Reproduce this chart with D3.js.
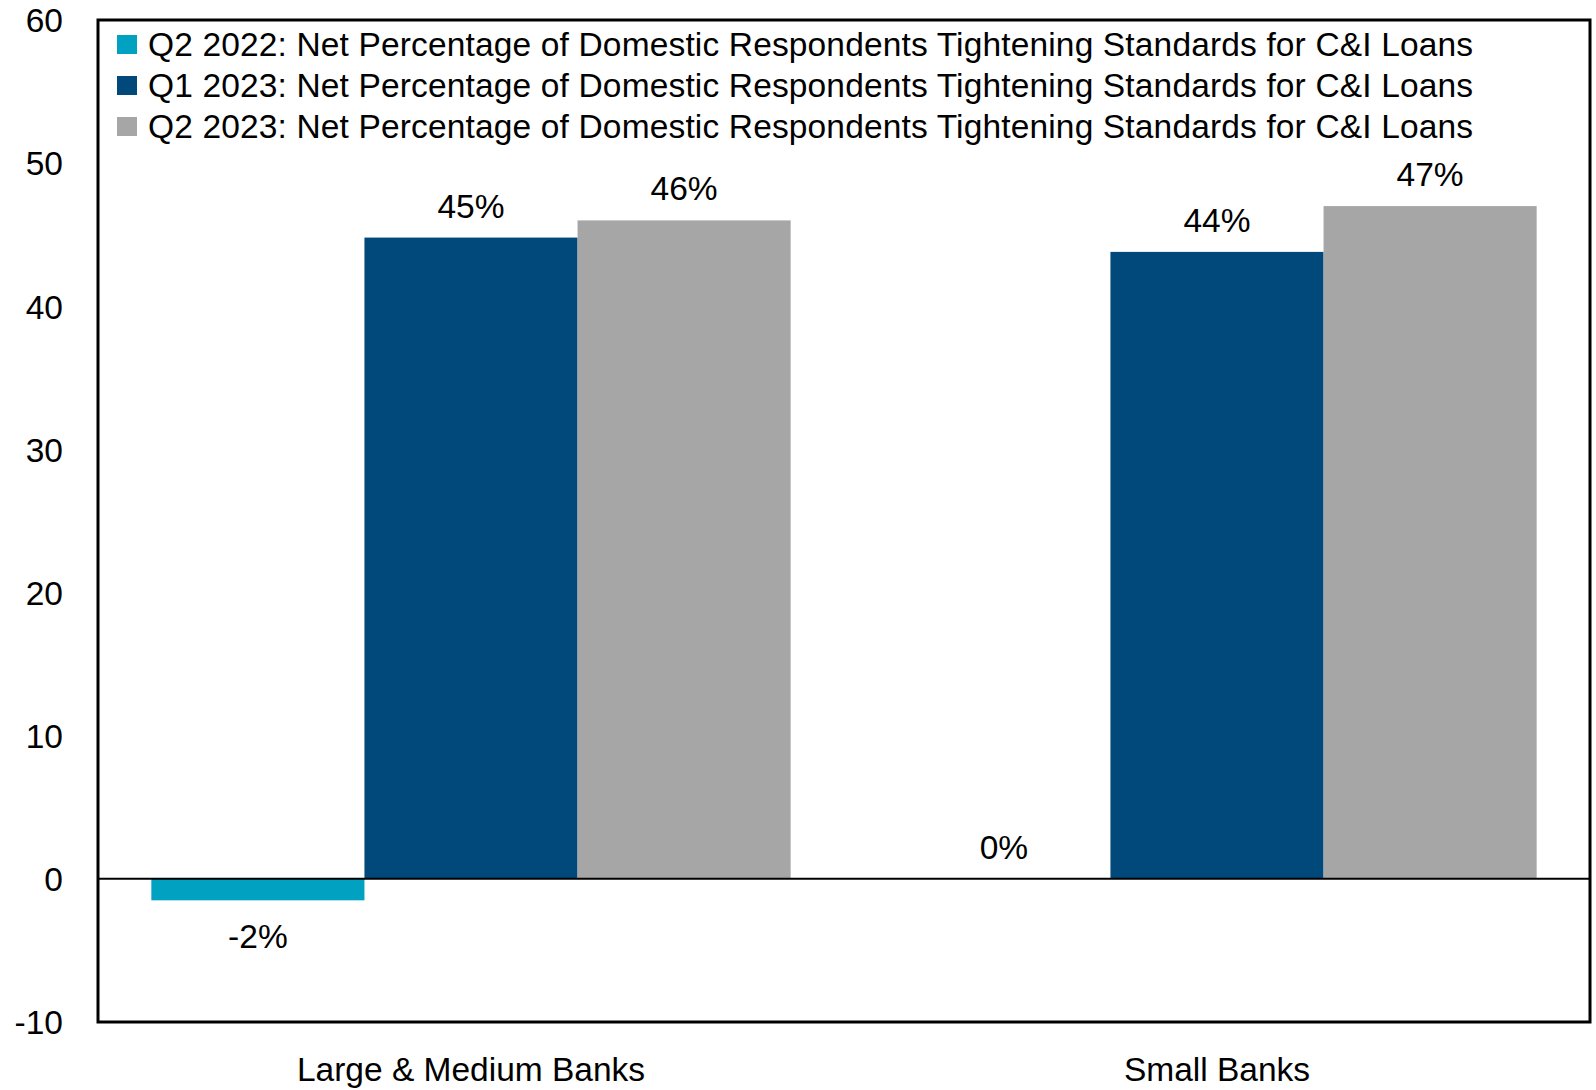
<!DOCTYPE html>
<html>
<head>
<meta charset="utf-8">
<script src="https://cdn.jsdelivr.net/npm/d3@7"></script>
<style>
  body { margin: 0; background: #fff; }
  svg text { font-family: "Liberation Sans", Arial, sans-serif; fill: #000; }
</style>
</head>
<body>
<div id="chart"></div>
<script>
const categories = ["Large & Medium Banks", "Small Banks"];
const seriesNames = [
  "Q2 2022: Net Percentage of Domestic Respondents Tightening Standards for C&I Loans",
  "Q1 2023: Net Percentage of Domestic Respondents Tightening Standards for C&I Loans",
  "Q2 2023: Net Percentage of Domestic Respondents Tightening Standards for C&I Loans",
];
const q2_2022 = [-1.5, 0];
const q1_2023 = [44.8, 43.8];
const q2_2023 = [46, 47];
const labels = [["-2%", "0%"], ["45%", "44%"], ["46%", "47%"]];
const yTicks = [-10, 0, 10, 20, 30, 40, 50, 60];
const colors = ["#00a1c1", "#00497a", "#a6a6a6"];

const width = 1596;
const height = 1090;
const plot = { left: 98, right: 1590, top: 20, bottom: 1022 };
const fontSize = "33.5px";

const svg = d3
  .select("#chart")
  .append("svg")
  .attr("width", width)
  .attr("height", height);

const values = [q2_2022, q1_2023, q2_2023];

const x0 = d3
  .scaleBand()
  .domain(categories)
  .range([plot.left, plot.right])
  .paddingInner(0.143)
  .paddingOuter(0.0715);

const x1 = d3
  .scaleBand()
  .domain(d3.range(seriesNames.length))
  .range([0, x0.bandwidth()]);

const y = d3.scaleLinear().domain([-10, 60]).range([plot.bottom, plot.top]);

// bars
values.forEach((series, s) => {
  svg
    .append("g")
    .selectAll("rect")
    .data(series)
    .join("rect")
    .attr("x", (d, i) => x0(categories[i]) + x1(s))
    .attr("y", (d) => y(Math.max(0, d)))
    .attr("width", x1.bandwidth())
    .attr("height", (d) => Math.abs(y(d) - y(0)))
    .attr("fill", colors[s]);
});

// data labels
values.forEach((series, s) => {
  svg
    .append("g")
    .selectAll("text")
    .data(series)
    .join("text")
    .attr("x", (d, i) => x0(categories[i]) + x1(s) + x1.bandwidth() / 2)
    .attr("y", (d) => (d < 0 ? y(d) + 48 : y(d) - 20))
    .attr("text-anchor", "middle")
    .style("font-size", fontSize)
    .text((d, i) => labels[s][i]);
});

// zero line
svg
  .append("line")
  .attr("x1", plot.left)
  .attr("x2", plot.right)
  .attr("y1", y(0))
  .attr("y2", y(0))
  .attr("stroke", "#000")
  .attr("stroke-width", 2);

// frame
svg
  .append("rect")
  .attr("x", plot.left)
  .attr("y", plot.top)
  .attr("width", plot.right - plot.left)
  .attr("height", plot.bottom - plot.top)
  .attr("fill", "none")
  .attr("stroke", "#000")
  .attr("stroke-width", 3);

// y axis labels
const yAxis = svg
  .append("g")
  .attr("transform", `translate(${plot.left - 35},0)`)
  .call(
    d3
      .axisLeft(y)
      .tickValues(yTicks)
      .tickFormat((d) => String(d))
      .tickSize(0)
      .tickPadding(0)
  );
yAxis.select(".domain").remove();
yAxis
  .selectAll("text")
  .style("font-size", fontSize)
  .attr("dy", "0.35em");

// x axis labels
const xAxis = svg
  .append("g")
  .attr("transform", `translate(0,${plot.bottom})`)
  .call(d3.axisBottom(x0).tickSize(0).tickPadding(0));
xAxis.select(".domain").remove();
xAxis
  .selectAll("text")
  .style("font-size", fontSize)
  .attr("dy", null)
  .attr("y", 59);

// legend
const legend = svg
  .append("g")
  .selectAll("g")
  .data(seriesNames)
  .join("g")
  .attr("transform", (d, i) => `translate(117,${35 + i * 41})`);

legend
  .append("rect")
  .attr("width", 20)
  .attr("height", 19)
  .attr("fill", (d, i) => colors[i]);

legend
  .append("text")
  .attr("x", 31)
  .attr("y", 21)
  .style("font-size", fontSize)
  .style("letter-spacing", "0.15px")
  .text((d) => d);
</script>
</body>
</html>
